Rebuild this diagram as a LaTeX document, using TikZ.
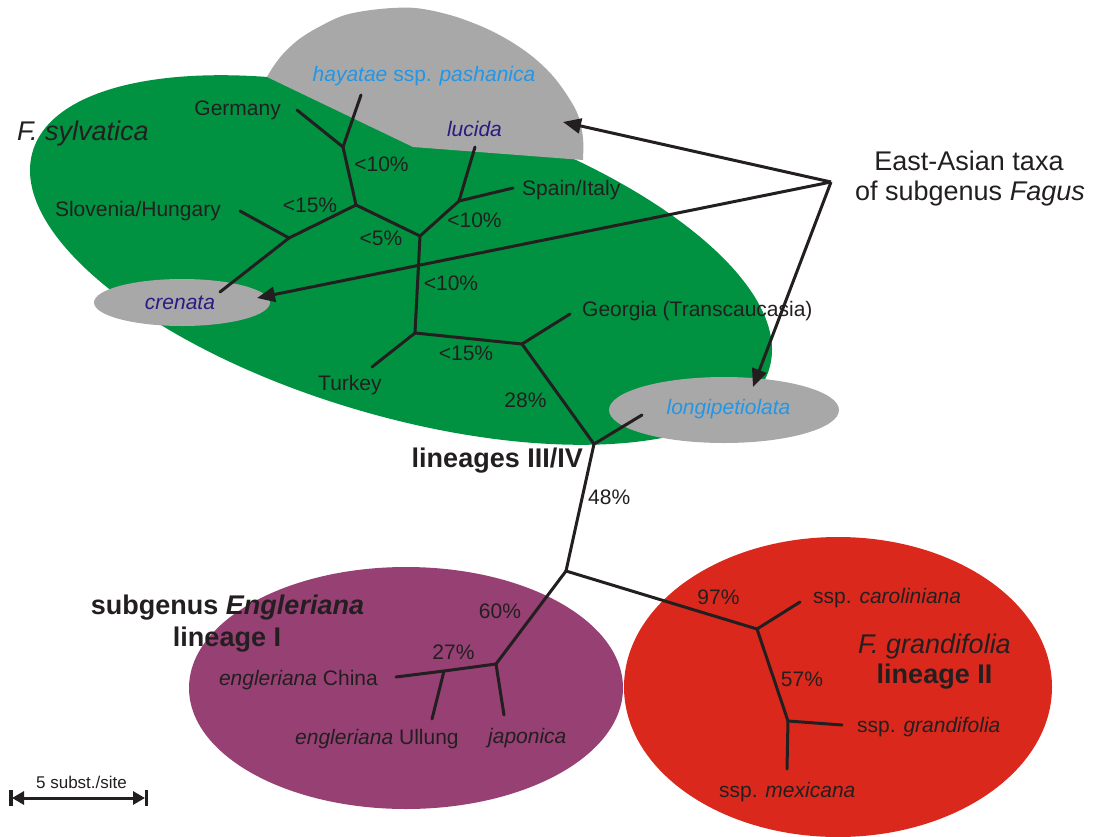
\documentclass[tikz,border=0pt]{standalone}
\usepackage{fontspec}
\setmainfont{Liberation Sans}
\usetikzlibrary{arrows.meta}
\definecolor{sylvgreen}{RGB}{0,146,64}
\definecolor{taxgray}{RGB}{168,168,168}
\definecolor{englpurple}{RGB}{150,64,115}
\definecolor{grandred}{RGB}{218,41,28}
\definecolor{asiablue}{RGB}{35,150,230}
\definecolor{asiaindigo}{RGB}{45,25,130}
\definecolor{ink}{RGB}{35,31,32}

\begin{document}
\begin{tikzpicture}[x=1pt,y=-1pt,
  branch/.style={draw=ink, line width=3pt, line cap=round},
  pointer/.style={draw=ink, line width=3pt, -{Triangle[length=18pt,width=15pt]}},
  lbl/.style={inner sep=0pt, text=ink, font=\fontsize{21}{25}\selectfont},
  biglbl/.style={inner sep=0pt, text=ink, font=\fontsize{27}{32}\selectfont},
  scalelbl/.style={inner sep=0pt, text=ink, font=\fontsize{17}{20}\selectfont},
  tipblue/.style={lbl, text=asiablue, font=\fontsize{21}{25}\selectfont},
  tipindigo/.style={lbl, text=asiaindigo, font=\fontsize{21}{25}\selectfont\itshape}]

\useasboundingbox (0,0) rectangle (1093,836);

% --- coloured groupings -------------------------------------------------
\fill[sylvgreen, rotate around={-16.4:(401,260)}] (401,260) ellipse [x radius=384pt, y radius=156pt];
\fill[taxgray] (267,77) -- (413,147) -- (583,160) --
  plot[smooth, tension=0.55] coordinates {(583,160) (583,138) (578,115) (567,95) (552,75) (533,57) (510,41) (483,27) (450,15) (415,8) (380,9) (345,15) (317,28) (298,40) (283,54) (273,67) (267,77)} -- cycle;
\fill[taxgray] (182,302.5) ellipse [x radius=88pt, y radius=23.5pt];
\fill[taxgray] (724,410) ellipse [x radius=115pt, y radius=33pt];
\fill[englpurple] (406,688) ellipse [x radius=217pt, y radius=121pt];
\fill[grandred] (838,687) ellipse [x radius=214pt, y radius=150pt];

% --- tree: tips and inner nodes ---------------------------------------
\coordinate (hay) at (361,95);
\coordinate (ger) at (297,110);
\coordinate (n1) at (343,147);
\coordinate (n2) at (356,205);
\coordinate (n3) at (289,238);
\coordinate (slo) at (240,211);
\coordinate (cre) at (220,292);
\coordinate (n4) at (420,236);
\coordinate (n5) at (459,201);
\coordinate (luc) at (475,147);
\coordinate (spa) at (513,188);
\coordinate (n6) at (415,333);
\coordinate (tur) at (372,367);
\coordinate (n7) at (522,344);
\coordinate (geo) at (570,314);
\coordinate (n8) at (594,444);
\coordinate (lon) at (642,415);
\coordinate (n9) at (566,571);
\coordinate (n10) at (496,664);
\coordinate (jap) at (504,715);
\coordinate (n11) at (444,671);
\coordinate (chi) at (396,677);
\coordinate (ull) at (432,719);
\coordinate (n12) at (757,629);
\coordinate (car) at (800,602);
\coordinate (n13) at (788,721);
\coordinate (gra) at (842,725);
\coordinate (mex) at (787,769);

\foreach \a/\b in {hay/n1, ger/n1, n1/n2, n2/n3, n3/slo, n3/cre, n2/n4, n4/n5,
  n5/luc, n5/spa, n4/n6, n6/tur, n6/n7, n7/geo, n7/n8, n8/lon, n8/n9,
  n9/n10, n10/jap, n10/n11, n11/chi, n11/ull, n9/n12, n12/car, n12/n13,
  n13/gra, n13/mex}
  \draw[branch] (\a) -- (\b);

% --- pointers to the East-Asian taxa ----------------------------------
\coordinate (hub) at (831,182);
\coordinate (toHay) at (563,122);
\coordinate (toCre) at (257,298);
\coordinate (toLon) at (753,387);
\draw[pointer, shorten >=0pt] (hub) -- (toHay);
\draw[pointer] (hub) -- (toCre);
\draw[pointer] (hub) -- (toLon);

% --- scale bar ---------------------------------------------------------
\coordinate (sbL) at (12,798);
\coordinate (sbR) at (145,798);
\draw[draw=ink, line width=3pt, {Triangle[length=12pt,width=13pt]}-{Triangle[length=12pt,width=13pt]}] (sbL) -- (sbR);
\draw[draw=ink, line width=3.5pt] (sbL) ++(-0.8,-8) -- ++(0,16);
\draw[draw=ink, line width=3.5pt] (sbR) ++(1.5,-8) -- ++(0,16);
\node[scalelbl, anchor=base] (sblbl) at (81.5,788) {5 subst./site};

% --- labels ------------------------------------------------------------
\node[biglbl, anchor=base west, font=\fontsize{27}{32}\selectfont\itshape] (sylv) at (17,140) {F. sylvatica};
\node[tipblue, anchor=base] (lhay) at (424,81) {\textit{hayatae} ssp. \textit{pashanica}};
\node[lbl, anchor=base east] (lger) at (281,115) {Germany};
\node[tipindigo, anchor=base] (lluc) at (474.5,136) {lucida};
\node[lbl, anchor=base] (b1) at (381.5,171) {<10\%};
\node[lbl, anchor=base west] (lspa) at (522,195) {Spain/Italy};
\node[lbl, anchor=base east] (lslo) at (221,216) {Slovenia/Hungary};
\node[lbl, anchor=base] (b2) at (310,212) {<15\%};
\node[lbl, anchor=base] (b3) at (474.5,227) {<10\%};
\node[lbl, anchor=base] (b4) at (381,245) {<5\%};
\node[lbl, anchor=base] (b5) at (451,290) {<10\%};
\node[tipindigo, anchor=base] (lcre) at (180,309) {crenata};
\node[lbl, anchor=base west] (lgeo) at (582,316) {Georgia (Transcaucasia)};
\node[lbl, anchor=base] (b6) at (466,360) {<15\%};
\node[lbl, anchor=base west] (ltur) at (318,390) {Turkey};
\node[lbl, anchor=base] (b7) at (525.5,407) {28\%};
\node[tipblue, anchor=base, font=\fontsize{21}{25}\selectfont\itshape] (llon) at (728.5,414) {longipetiolata};
\node[biglbl, anchor=base east, font=\fontsize{27}{32}\selectfont\bfseries] (l34) at (583,467) {lineages III/IV};
\node[lbl, anchor=base west] (b8) at (588,504) {48\%};
\node[biglbl, anchor=base, font=\fontsize{27}{32}\selectfont\bfseries] (lsub) at (227.5,614) {subgenus \textit{Engleriana}};
\node[biglbl, anchor=base, font=\fontsize{27}{32}\selectfont\bfseries] (l1) at (227,646) {lineage I};
\node[lbl, anchor=base] (b9) at (500,618) {60\%};
\node[lbl, anchor=base] (b10) at (453.5,659) {27\%};
\node[lbl, anchor=base east] (lchi) at (378,685) {\textit{engleriana} China};
\node[lbl, anchor=base west] (lull) at (295,744) {\textit{engleriana} Ullung};
\node[lbl, anchor=base west] (ljap) at (488,743) {\textit{japonica}};
\node[lbl, anchor=base] (b11) at (718.5,604) {97\%};
\node[lbl, anchor=base west] (lcar) at (813,603) {ssp. \textit{caroliniana}};
\node[biglbl, anchor=base, font=\fontsize{27}{32}\selectfont\itshape] (lgrf) at (934.5,653) {F. grandifolia};
\node[biglbl, anchor=base, font=\fontsize{27}{32}\selectfont\bfseries] (l2) at (934.5,683) {lineage II};
\node[lbl, anchor=base] (b12) at (802,686) {57\%};
\node[lbl, anchor=base west] (lgra) at (857,732) {ssp. \textit{grandifolia}};
\node[lbl, anchor=base west] (lmex) at (719,797) {ssp. \textit{mexicana}};
\node[biglbl, anchor=base] (lea1) at (969,170) {East-Asian taxa};
\node[biglbl, anchor=base] (lea2) at (970,200) {of subgenus \textit{Fagus}};

\end{tikzpicture}
\end{document}
